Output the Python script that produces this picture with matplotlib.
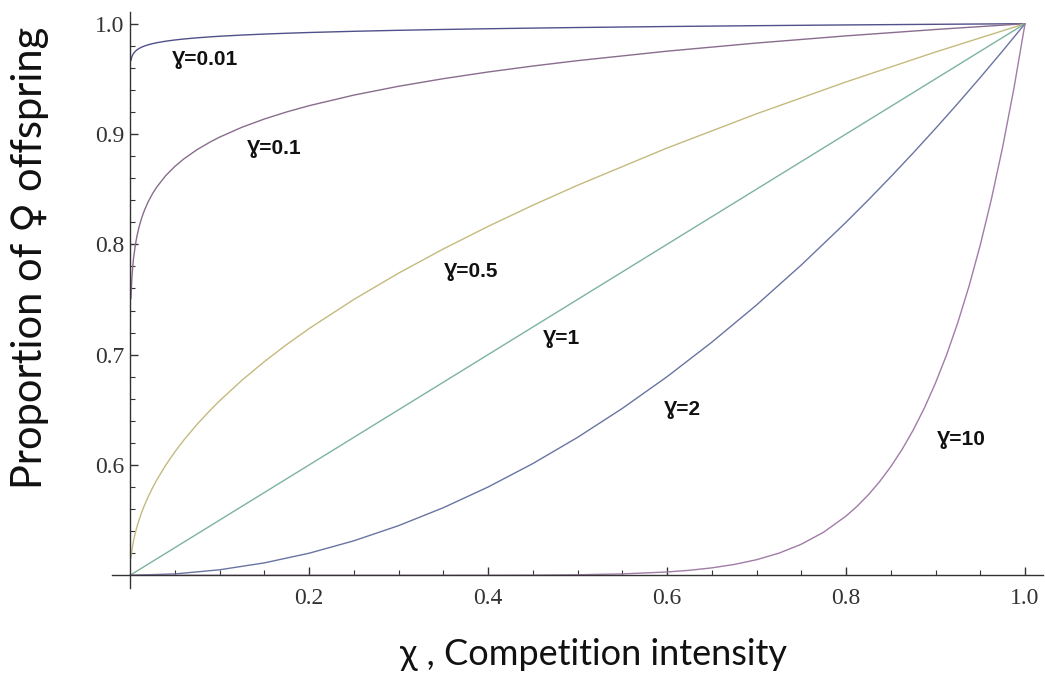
import matplotlib
matplotlib.use('Agg')
import matplotlib.pyplot as plt
from matplotlib.ticker import FixedLocator

# values
x_low = [0.001, 0.002, 0.003, 0.004, 0.006, 0.008, 0.01, 0.013, 0.016, 0.02, 0.025, 0.03,
         0.04, 0.05, 0.06, 0.075, 0.09, 0.1, 0.125, 0.15, 0.175, 0.2, 0.25, 0.3, 0.35,
         0.4, 0.45, 0.5, 0.6, 0.7, 0.8, 0.9, 1.0]
y_001 = [0.96663, 0.96987, 0.97178, 0.97314, 0.97506, 0.97643, 0.97750, 0.97875, 0.97975,
         0.98082, 0.98189, 0.98277, 0.98416, 0.98525, 0.98613, 0.98722, 0.98811, 0.98862,
         0.98971, 0.99061, 0.99136, 0.99202, 0.99312, 0.99402, 0.99478, 0.99544, 0.99602,
         0.99655, 0.99745, 0.99822, 0.99889, 0.99947, 1.0]
y_01 = [0.75059, 0.76858, 0.77970, 0.78786, 0.79977, 0.80852, 0.81548, 0.82386, 0.83066,
        0.83812, 0.84575, 0.85211, 0.86239, 0.87057, 0.87739, 0.88590, 0.89300, 0.89716,
        0.90612, 0.91360, 0.92002, 0.92567, 0.93527, 0.94328, 0.95017, 0.95623, 0.96163,
        0.96651, 0.97510, 0.98248, 0.98897, 0.99476, 1.0]
y_05 = [0.51581, 0.52236, 0.52739, 0.53162, 0.53873, 0.54472, 0.55, 0.55701, 0.56325,
        0.57071, 0.57906, 0.58660, 0.6, 0.61180, 0.62247, 0.63693, 0.65, 0.65811, 0.67678,
        0.69365, 0.70917, 0.72361, 0.75, 0.77386, 0.79580, 0.81623, 0.83541, 0.85355,
        0.88730, 0.91833, 0.94721, 0.97434, 1.0]

x_mid = [0, 0.05, 0.1, 0.15, 0.2, 0.25, 0.3, 0.35, 0.4, 0.45, 0.5, 0.55, 0.6, 0.65, 0.7,
         0.75, 0.8, 0.825, 0.85, 0.875, 0.9, 0.925, 0.95, 0.975, 1.0]
y_1 = [0.5, 0.525, 0.55, 0.575, 0.6, 0.625, 0.65, 0.675, 0.7, 0.725, 0.75, 0.775, 0.8,
       0.825, 0.85, 0.875, 0.9, 0.9125, 0.925, 0.9375, 0.95, 0.9625, 0.975, 0.9875, 1.0]
y_2 = [0.5, 0.50125, 0.505, 0.51125, 0.52, 0.53125, 0.545, 0.56125, 0.58, 0.60125, 0.625,
       0.65125, 0.68, 0.71125, 0.745, 0.78125, 0.82, 0.84031, 0.86125, 0.88281, 0.905,
       0.92781, 0.95125, 0.97531, 1.0]

x_high = [0, 0.3, 0.4, 0.45, 0.5, 0.55, 0.6, 0.625, 0.65, 0.675, 0.7, 0.725, 0.75, 0.775,
          0.8, 0.8125, 0.825, 0.8375, 0.85, 0.8625, 0.875, 0.8875, 0.9, 0.9125, 0.925,
          0.9375, 0.95, 0.9625, 0.975, 0.9875, 1.0]
y_10 = [0.5, 0.5, 0.50005, 0.50017, 0.50049, 0.50127, 0.50302, 0.50455, 0.50673, 0.50982,
        0.51412, 0.52006, 0.52816, 0.53908, 0.55369, 0.56268, 0.57302, 0.58487, 0.59844,
        0.61390, 0.63154, 0.65158, 0.67434, 0.70013, 0.72929, 0.76224, 0.79937, 0.84117,
        0.88817, 0.94091, 1.0]

labels = ['Ɣ=0.01', 'Ɣ=0.1', 'Ɣ=0.5', 'Ɣ=1', 'Ɣ=2', 'Ɣ=10']
label_x = [0.047, 0.131, 0.351, 0.461, 0.596, 0.902]
label_y = [0.968, 0.887, 0.775, 0.715, 0.650, 0.623]

x_ticks = [0.2, 0.4, 0.6, 0.8, 1.0]
y_ticks = [0.6, 0.7, 0.8, 0.9, 1.0]
x_minor = [0.05 * i for i in range(1, 21)]
y_minor = [0.5 + 0.02 * i for i in range(1, 26)]

colors = ['#50508a', '#8a6c8e', '#c4ba7e', '#7db39c', '#6a74a2', '#a07ca6']

fig = plt.figure(figsize=(10.45, 6.75), dpi=100)
ax = fig.add_axes([0.1073, 0.1289, 0.8907, 0.8533])

series = [(x_low, y_001), (x_low, y_01), (x_low, y_05), (x_mid, y_1), (x_mid, y_2), (x_high, y_10)]
for (xs, ys), c in zip(series, colors):
    ax.plot(xs, ys, color=c, lw=1.0, solid_capstyle='round', solid_joinstyle='round')

for t, lx, ly in zip(labels, label_x, label_y):
    ax.text(lx, ly, t, fontsize=15, fontweight='bold', va='center', ha='left',
            family=['Liberation Sans', 'DejaVu Sans'], color='#111111')

ax.set_xlim(-0.02, 1.02)
ax.set_ylim(0.4885, 1.0106)

for s in ['top', 'right']:
    ax.spines[s].set_visible(False)
ax.spines['left'].set_position(('data', 0))
ax.spines['bottom'].set_position(('data', 0.5))
for s in ['left', 'bottom']:
    ax.spines[s].set_color('#333333')
    ax.spines[s].set_linewidth(1.0)

ax.xaxis.set_major_locator(FixedLocator(x_ticks))
ax.yaxis.set_major_locator(FixedLocator(y_ticks))
ax.xaxis.set_minor_locator(FixedLocator(x_minor))
ax.yaxis.set_minor_locator(FixedLocator(y_minor))
ax.set_xticklabels(['%.1f' % v for v in x_ticks])
ax.set_yticklabels(['%.1f' % v for v in y_ticks])
ax.tick_params(which='major', direction='in', length=6, width=1.0, color='#333333',
               labelsize=17, labelcolor='#333333', pad=4)
ax.tick_params(which='minor', direction='in', length=3.5, width=0.8, color='#333333')
ax.tick_params(axis='x', which='major', pad=9)
for lab in ax.get_xticklabels() + ax.get_yticklabels():
    lab.set_family(['Liberation Serif', 'DejaVu Serif'])

fig.text(0.0287, 0.6185, 'Proportion of ♀ offspring', rotation=90, ha='center', va='center',
         fontsize=30, family=['Lato', 'DejaVu Sans'], color='#111111')
fig.text(0.5675, 0.03, 'χ , Competition intensity', ha='center', va='center',
         fontsize=26, family=['Lato', 'DejaVu Sans'], color='#111111')

plt.savefig('out.png', dpi=100)
